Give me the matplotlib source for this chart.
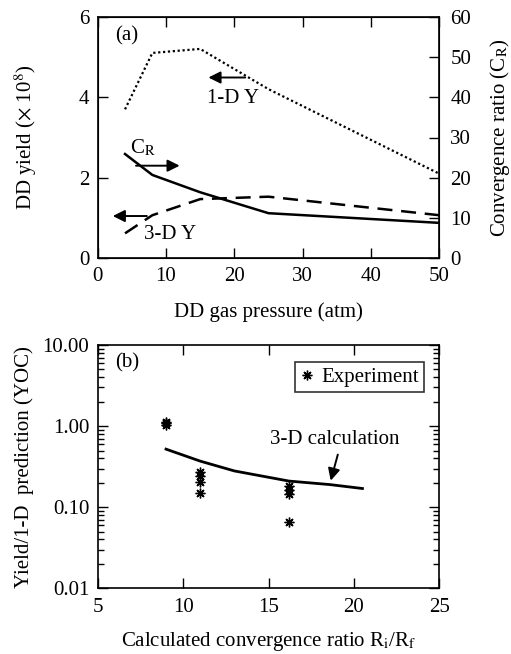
"""
two-panel figure: DD yield / convergence ratio vs gas pressure,
and yield-over-clean vs convergence ratio
"""

import matplotlib
matplotlib.use("Agg")
import matplotlib.pyplot as plt
from matplotlib.ticker import FixedLocator, LogLocator, NullFormatter

plt.rcParams["font.family"] = ["Liberation Serif", "DejaVu Serif"]
plt.rcParams["mathtext.fontset"] = "stix"

# panel (a)
pressure = [4, 8, 15, 25, 50]
yield_1d = [3.7, 5.1, 5.2, 4.2, 2.1]
yield_3d = [0.62, 1.07, 1.47, 1.53, 1.07]
conv_ratio = [25.9, 20.7, 16.4, 11.2, 8.8]

# panel (b)
calc_cr = [9.0, 11.0, 13.0, 16.2, 18.6, 20.5]
calc_yoc = [0.52, 0.37, 0.28, 0.21, 0.19, 0.17]
exp_cr = [9.0, 9.0, 9.0, 11.0, 11.0, 11.0, 11.0, 16.2, 16.2, 16.2, 16.2]
exp_yoc = [1.12, 1.08, 1.04, 0.274, 0.24, 0.206, 0.15, 0.183, 0.163, 0.146, 0.066]

FS = 15
ARROW = dict(arrowstyle="-|>", color="black", lw=1.4, mutation_scale=18)


def style_ticks(ax):
    ax.tick_params(direction="in", length=7, width=1, labelsize=FS,
                   top=True, pad=6)
    ax.tick_params(which="minor", direction="in", length=4, width=1)
    for sp in ax.spines.values():
        sp.set_linewidth(1.2)


fig = plt.figure(figsize=(5.11, 6.54), dpi=100)
W, H = 511.0, 654.0
ax1 = fig.add_axes([97.7 / W, 1 - 258.3 / H, 341.6 / W, 241.6 / H])
ax2 = fig.add_axes([97.7 / W, 1 - 588.3 / H, 341.6 / W, 243.3 / H])

# ---- (a)
ax1.plot(pressure, yield_1d, color="black", lw=1.6, ls=(0, (1, 1.2)))
ax1.plot(pressure, yield_3d, color="black", lw=1.8, ls=(0, (6, 3.5)))
ax1.set_xlim(0, 50)
ax1.set_ylim(0, 6)
ax1.xaxis.set_major_locator(FixedLocator([0, 10, 20, 30, 40, 50]))
ax1.yaxis.set_major_locator(FixedLocator([0, 2, 4, 6]))
style_ticks(ax1)
ax1.tick_params(right=False)
ax1.set_xlabel("DD gas pressure (atm)", fontsize=FS, labelpad=12)
ax1.set_ylabel(r"DD yield ($\times$ 10$^8$)", fontsize=FS, labelpad=29)

ax1r = ax1.twinx()
ax1r.plot(pressure, conv_ratio, color="black", lw=1.8)
ax1r.set_ylim(0, 60)
ax1r.yaxis.set_major_locator(FixedLocator([0, 10, 20, 30, 40, 50, 60]))
ax1r.tick_params(direction="in", length=7, width=1, labelsize=FS, pad=8)
ax1r.set_ylabel(r"Convergence ratio (C$_\mathrm{R}$)", fontsize=FS,
                labelpad=12)

ax1.text(2.5, 5.52, "(a)", fontsize=FS, va="center")
ax1.annotate("", xy=(15.8, 4.49), xytext=(22, 4.49), arrowprops=ARROW)
ax1.text(19.8, 3.97, "1-D Y", fontsize=FS, ha="center", va="center")
ax1.annotate("", xy=(12.4, 2.30), xytext=(5.2, 2.30), arrowprops=ARROW)
ax1.text(6.6, 2.74, r"C$_\mathrm{R}$", fontsize=FS, ha="center",
         va="center")
ax1.annotate("", xy=(1.8, 1.05), xytext=(7.6, 1.05), arrowprops=ARROW)
ax1.text(10.6, 0.58, "3-D Y", fontsize=FS, ha="center", va="center")

# ---- (b)
ax2.plot(calc_cr, calc_yoc, color="black", lw=2)
ax2.plot(exp_cr, exp_yoc, ls="none", marker=(8, 2, 0), ms=7,
         mew=1.0, color="black", label="Experiment")
ax2.set_yscale("log")
ax2.set_xlim(5, 25)
ax2.set_ylim(0.01, 10)
ax2.xaxis.set_major_locator(FixedLocator([5, 10, 15, 20, 25]))
ax2.yaxis.set_major_locator(FixedLocator([0.01, 0.1, 1, 10]))
ax2.yaxis.set_major_formatter(plt.FuncFormatter(lambda v, p: "%.2f" % v))
ax2.yaxis.set_minor_locator(LogLocator(base=10, subs=range(2, 10)))
ax2.yaxis.set_minor_formatter(NullFormatter())
style_ticks(ax2)
ax2.tick_params(which="both", right=True)
ax2.tick_params(axis="x", pad=7)
ax2.set_xlabel(r"Calculated convergence ratio R$_\mathrm{i}$/R$_\mathrm{f}$",
               fontsize=FS, labelpad=9)
ax2.set_ylabel("Yield/1-D  prediction (YOC)", fontsize=FS, labelpad=6)

ax2.text(6.0, 6.0, "(b)", fontsize=FS, va="center")
ax2.text(18.9, 0.69, "3-D calculation", fontsize=FS, ha="center",
         va="center")
ax2.annotate("", xy=(18.6, 0.197), xytext=(19.1, 0.48), arrowprops=ARROW)
leg = ax2.legend(loc="upper right", fontsize=FS, frameon=True,
                 fancybox=False, edgecolor="black", handlelength=0.6,
                 handletextpad=0.4, borderpad=0.25,
                 bbox_to_anchor=(0.955, 0.93), borderaxespad=0)
leg.get_frame().set_linewidth(1.2)

fig.savefig("out.png", dpi=100)
